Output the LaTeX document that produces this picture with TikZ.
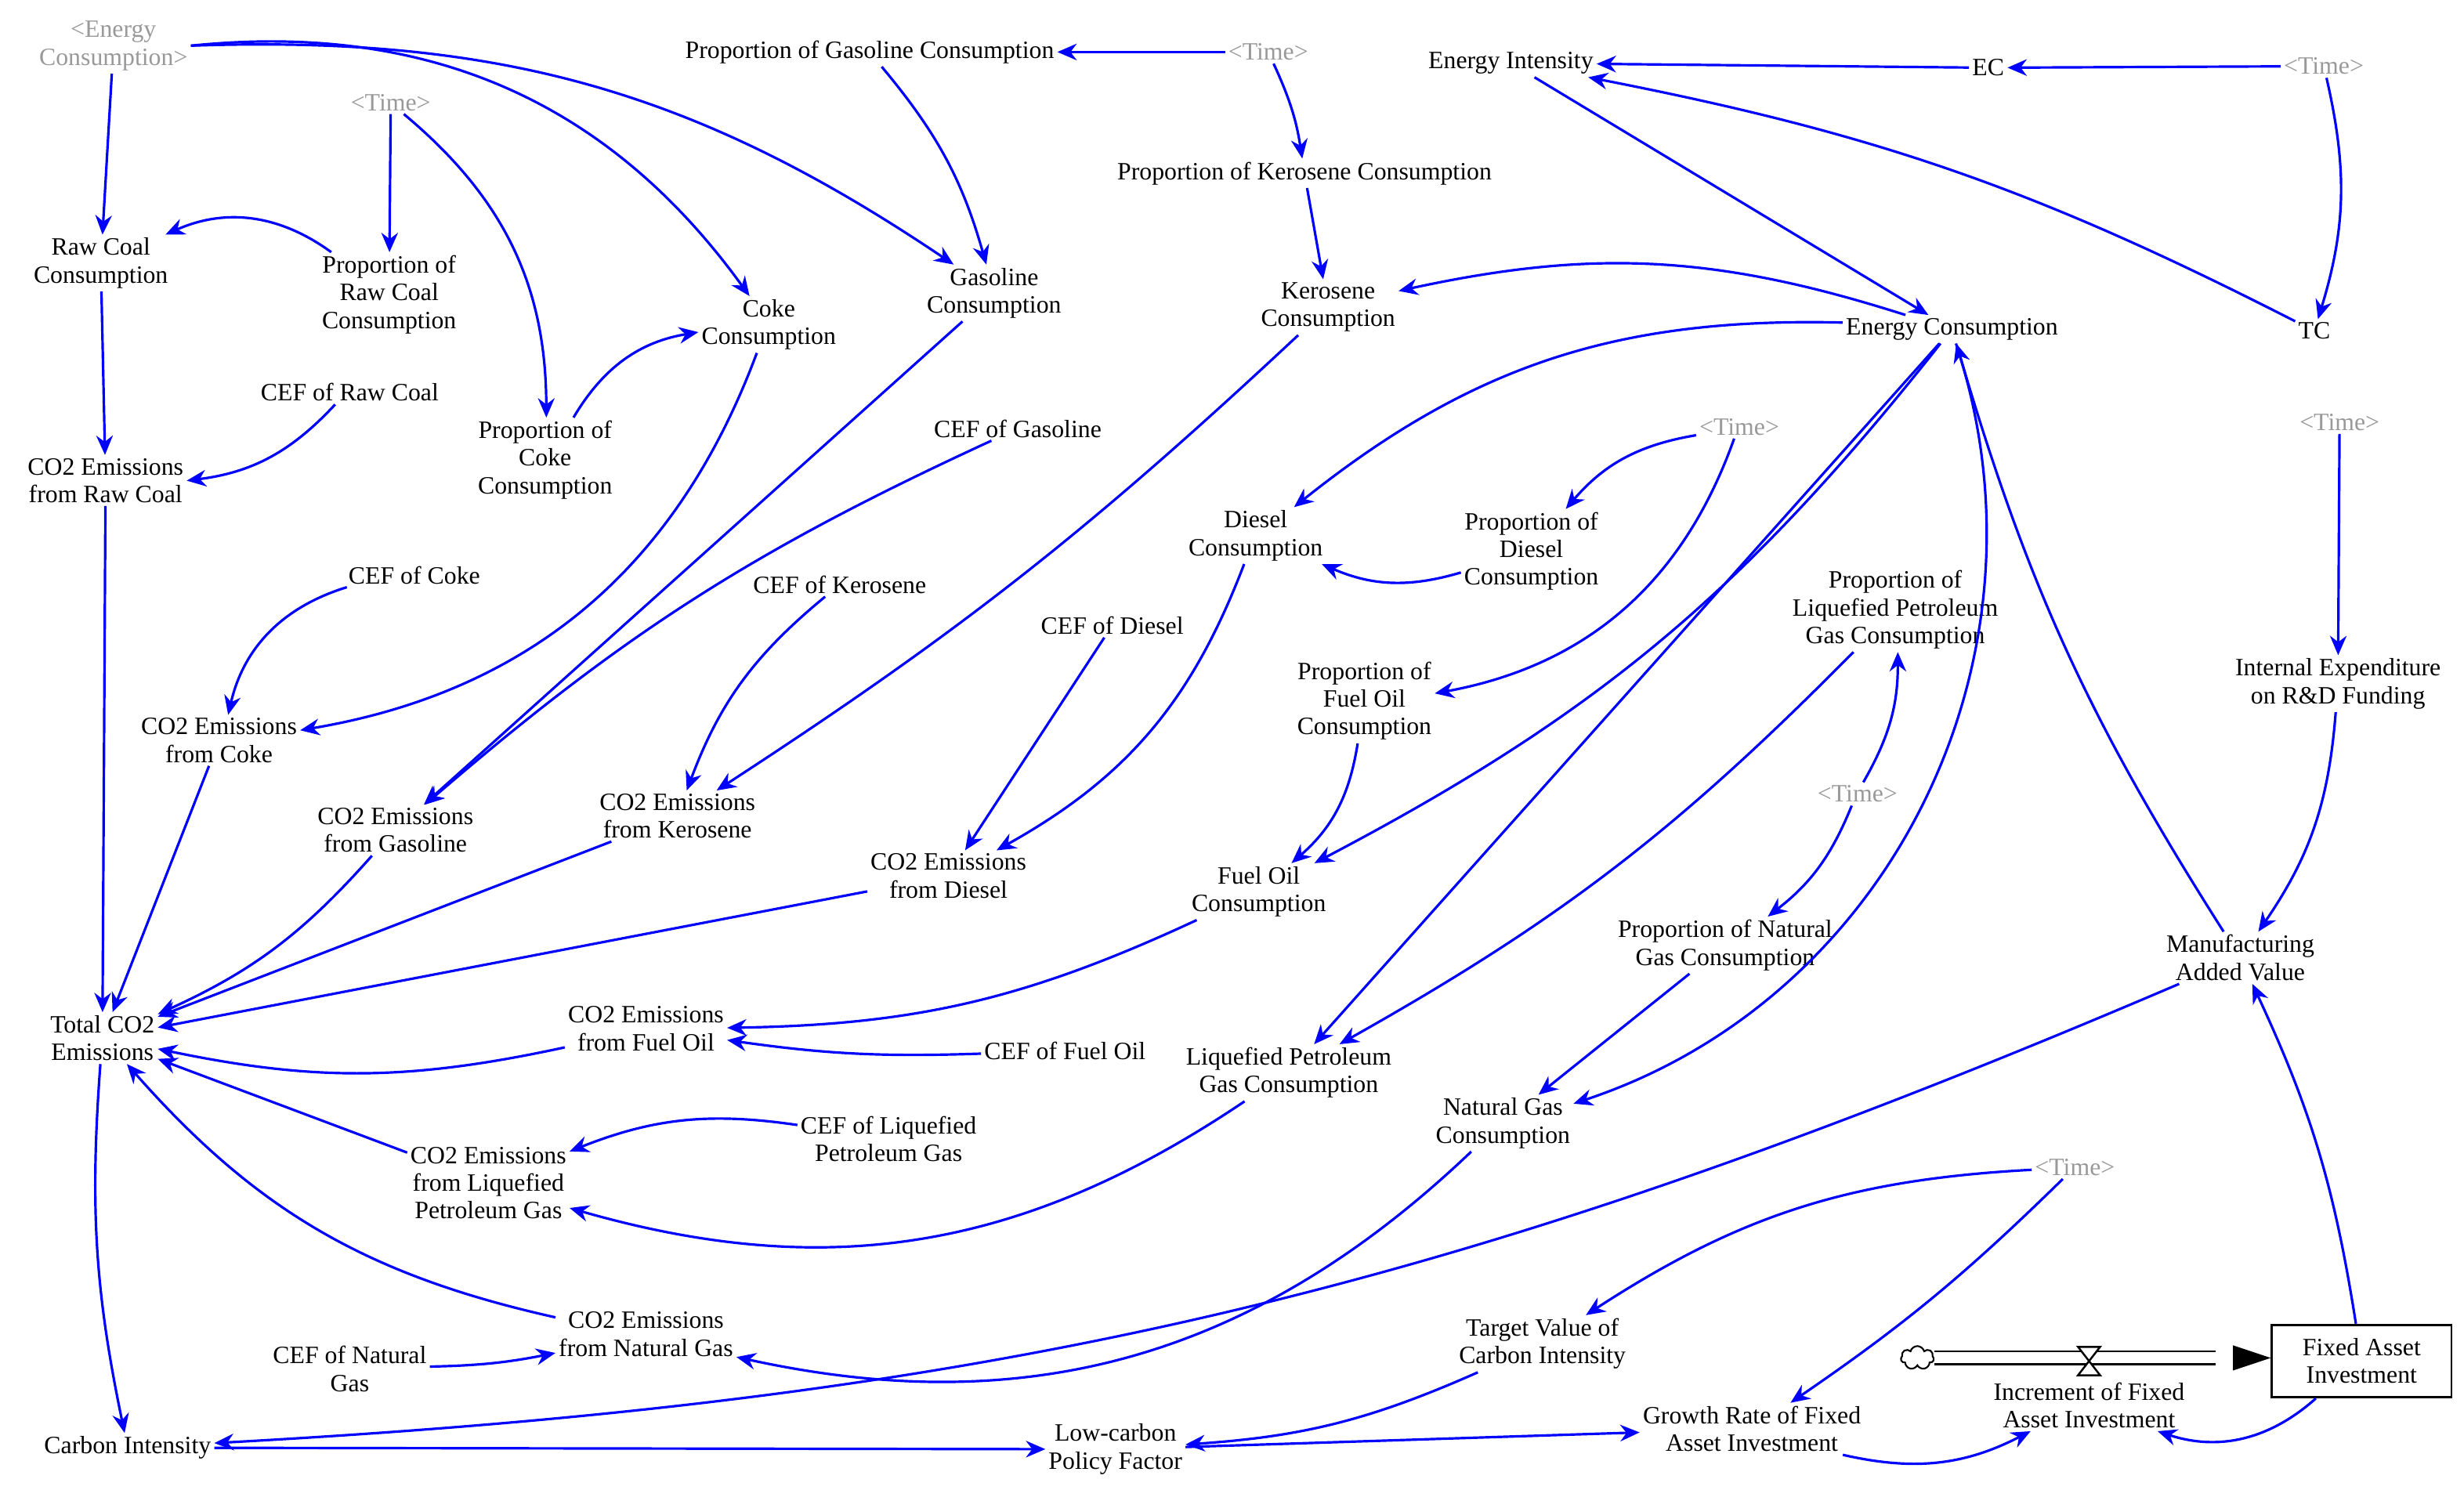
\documentclass[tikz,border=0pt]{standalone}
\usepackage{fontspec}
\setmainfont{Liberation Serif}
\usetikzlibrary{arrows.meta,shapes.misc,shapes.symbols}
\begin{document}
\begin{tikzpicture}[x=0.02cm,y=-0.02cm,
 v/.style={align=center,font=\fontsize{9}{10}\selectfont,inner sep=1pt},
 g/.style={v,text=black!40},
 e/.style={draw=blue,line width=0.9pt,-{Stealth[length=7pt,width=6pt]}},
 bl/.style={bend left=#1},br/.style={bend right=#1}]
\useasboundingbox (0,0) rectangle (1564,957);
\node[g] (ec) at (72,29) {<Energy\\Consumption>};
\node[v] (pgc) at (552,33) {Proportion of Gasoline Consumption};
\node[g] (t1) at (805,33) {<Time>};
\node[v] (ei) at (959,40) {Energy Intensity};
\node[v] (EC) at (1262,43) {EC};
\node[g] (t2) at (1475,42) {<Time>};
\node[v] (rcc) at (64,167) {Raw Coal\\Consumption};
\node[g] (t3) at (248,65) {<Time>};
\node[v] (prc) at (247,187) {Proportion of\\Raw Coal\\Consumption};
\node[v] (coke) at (488,206) {Coke\\Consumption};
\node[v] (gas) at (631,186) {Gasoline\\Consumption};
\node[v] (pkc) at (828,110) {Proportion of Kerosene Consumption};
\node[v] (kc) at (843,195) {Kerosene\\Consumption};
\node[v] (encon) at (1239,209) {Energy Consumption};
\node[v] (TC) at (1469,210) {TC};
\node[v] (cefrc) at (222,249) {CEF of Raw Coal};
\node[v] (pcc) at (346,292) {Proportion of\\Coke\\Consumption};
\node[v] (cefg) at (646,272) {CEF of Gasoline};
\node[v] (co2rc) at (67,305) {CO2 Emissions\\from Raw Coal};
\node[g] (t4) at (1104,271) {<Time>};
\node[g] (t5) at (1485,268) {<Time>};
\node[v] (dc) at (797,340) {Diesel\\Consumption};
\node[v] (pdc) at (972,350) {Proportion of\\Diesel\\Consumption};
\node[v] (plpg) at (1203,387) {Proportion of\\Liquefied Petroleum\\Gas Consumption};
\node[v] (cefc) at (263,365) {CEF of Coke};
\node[v] (cefk) at (533,371) {CEF of Kerosene};
\node[v] (cefd) at (706,397) {CEF of Diesel};
\node[v] (pfo) at (866,445) {Proportion of\\Fuel Oil\\Consumption};
\node[v] (ierd) at (1484,434) {Internal Expenditure\\on R\&D Funding};
\node[v] (co2c) at (139,470) {CO2 Emissions\\from Coke};
\node[v] (co2g) at (251,527) {CO2 Emissions\\from Gasoline};
\node[v] (co2k) at (430,518) {CO2 Emissions\\from Kerosene};
\node[v] (co2d) at (602,556) {CO2 Emissions\\from Diesel};
\node[g] (t6) at (1179,504) {<Time>};
\node[v] (foc) at (799,566) {Fuel Oil\\Consumption};
\node[v] (pngc) at (1095,600) {Proportion of Natural\\Gas Consumption};
\node[v] (mav) at (1422,608) {Manufacturing\\Added Value};
\node[v] (tot) at (65,659) {Total CO2\\Emissions};
\node[v] (co2fo) at (410,653) {CO2 Emissions\\from Fuel Oil};
\node[v] (ceffo) at (676,667) {CEF of Fuel Oil};
\node[v] (lpgc) at (818,681) {Liquefied Petroleum\\Gas Consumption};
\node[v] (ngc) at (954,713) {Natural Gas\\Consumption};
\node[v] (ceflpg) at (564,723) {CEF of Liquefied\\Petroleum Gas};
\node[v] (co2lpg) at (310,751) {CO2 Emissions\\from Liquefied\\Petroleum Gas};
\node[g] (t7) at (1317,741) {<Time>};
\node[v] (co2ng) at (410,847) {CO2 Emissions\\from Natural Gas};
\node[v] (cefng) at (222,869) {CEF of Natural\\Gas};
\node[v] (tvci) at (979,853) {Target Value of\\Carbon Intensity};
\node[v,draw,line width=0.8pt,minimum width=2.28cm,minimum height=0.92cm,inner sep=2pt] (fai) at (1499,864) {Fixed Asset\\Investment};
\node[v] (ifai) at (1326,892) {Increment of Fixed\\Asset Investment};
\node[v] (grfai) at (1112,907) {Growth Rate of Fixed\\Asset Investment};
\node[v] (ci) at (81,919) {Carbon Intensity};
\node[v] (lcpf) at (708,920) {Low-carbon\\Policy Factor};
% flow
\node[draw,cloud,cloud puffs=7,aspect=1.4,minimum width=0.42cm,minimum height=0.3cm,inner sep=0pt,line width=0.6pt] (cl) at (1217,862) {};
\coordinate (vv) at (1326,864);
\draw[double distance=4pt,line width=0.8pt] (cl.east) -- ([xshift=-20]fai.west|-cl.east);
\fill[black] (fai.west|-cl.east) -- ++(-24,-8) -- ++(0,16) -- cycle;
\draw[line width=0.7pt,fill=white] (vv) ++(-7,-9) -- ++(14,0) -- ++(-14,18) -- ++(14,0) -- cycle;
% edges
\draw[e] (ec) -- (rcc);
\draw[e,bl=30] (ec.east) to (coke);
\draw[e,bl=18] (ec.east) to (gas);
\draw[e] (t1) -- (pgc);
\draw[e,bl=12] (pgc) to (gas);
\draw[e,bl=8] (t1) to (pkc);
\draw[e] (pkc) -- (kc);
\draw[e] (EC) -- (ei);
\draw[e] (t2) -- (EC);
\draw[e,bl=15] (t2) to (TC);
\draw[e,br=8] (TC) to (ei);
\draw[e] (ei) -- (encon);
\draw[e,br=15] (encon) to (kc);
\draw[e,br=30] (prc) to (rcc);
\draw[e] (t3) -- (prc);
\draw[e,bl=25] (t3) to (pcc);
\draw[e,bl=25] (pcc) to (coke);
\draw[e] (rcc) -- (co2rc);
\draw[e,bl=20] (cefrc) to (co2rc);
\draw[e,bl=30] (coke) to (co2c);
\draw[e,br=30] (cefc) to (co2c);
\draw[e] (gas) -- (co2g);
\draw[e,br=8] (cefg) to (co2g);
\draw[e,bl=5] (kc) to (co2k);
\draw[e,br=15] (cefk) to (co2k);
\draw[e,br=20] (encon) to (dc);
\draw[e,br=20] (t4) to (pdc);
\draw[e,bl=30] (t4) to (pfo);
\draw[e,bl=20] (pdc) to (dc);
\draw[e,bl=20] (dc) to (co2d);
\draw[e] (cefd) -- (co2d);
\draw[e,bl=12] (encon) to (foc);
\draw[e,bl=20] (pfo) to (foc);
\draw[e] (encon) -- (lpgc);
\draw[e,bl=8] (plpg) to (lpgc);
\draw[e,br=15] (t6) to (plpg);
\draw[e,bl=15] (t6) to (pngc);
\draw[e,bl=45] (encon) to (ngc);
\draw[e] (pngc) -- (ngc);
\draw[e,bl=8] (mav) to (encon);
\draw[e] (t5) -- (ierd);
\draw[e,bl=15] (ierd) to (mav);
\draw[e,br=8] (fai) to (mav);
\draw[e] (co2rc) -- (tot);
\draw[e] (co2c) -- (tot);
\draw[e,bl=12] (co2g) to (tot);
\draw[e] (co2k) -- (tot);
\draw[e] (co2d) -- (tot);
\draw[e,bl=12] (co2fo) to (tot);
\draw[e] (co2lpg) -- (tot);
\draw[e,bl=18] (co2ng) to (tot);
\draw[e,bl=12] (foc) to (co2fo);
\draw[e,bl=5] (ceffo) to (co2fo);
\draw[e,bl=25] (lpgc) to (co2lpg);
\draw[e,br=15] (ceflpg) to (co2lpg);
\draw[e,bl=28] (ngc) to (co2ng);
\draw[e,br=5] (cefng) to (co2ng);
\draw[e,br=8] (tot) to (ci);
\draw[e,bl=10] (mav) to (ci);
\draw[e] (ci) -- (lcpf);
\draw[e,bl=10] (tvci) to (lcpf);
\draw[e] (lcpf) -- (grfai);
\draw[e,br=15] (t7) to (tvci);
\draw[e,bl=5] (t7) to (grfai);
\draw[e,br=20] (grfai) to (ifai);
\draw[e,bl=30] (fai) to (ifai);
\end{tikzpicture}
\end{document}
